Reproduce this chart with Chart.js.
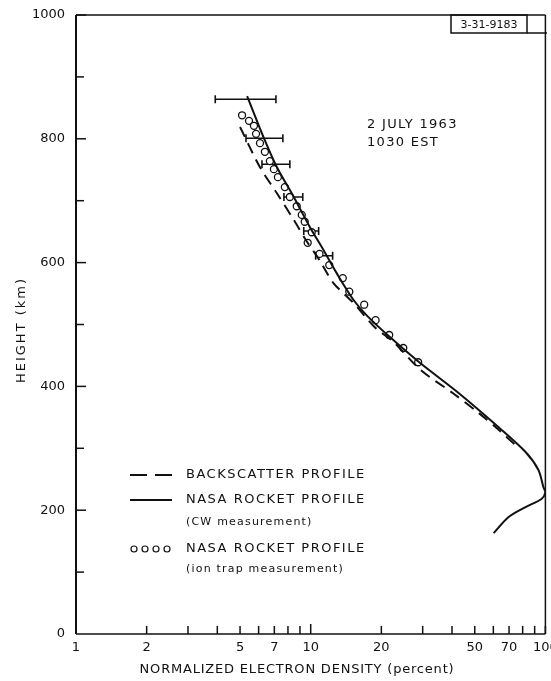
<!DOCTYPE html>
<html>
<head>
<meta charset="utf-8">
<script src="https://cdn.jsdelivr.net/npm/chart.js@4.4.0/dist/chart.umd.min.js"></script>
<style>
  html, body { margin: 0; padding: 0; background: #fff; }
  #wrap { width: 551px; height: 681px; }
</style>
</head>
<body>
<div id="wrap"><canvas id="chart"></canvas></div>
<script>
// backscatter profile (dashed line)
var backX = [5.0, 6.08, 7.18, 8.47, 9.52, 10.9, 12.5, 15.2, 18.7, 22.5, 29.5, 40.4, 52.0, 63.2, 74.6];
var backY = [819, 754, 712, 669, 637, 604, 567, 535, 496, 472, 426, 389, 357, 330, 305];

// NASA rocket profile, CW measurement (solid line)
var cwX = [5.36, 6.32, 7.18, 8.47, 9.90, 11.35, 12.9, 15.2, 17.4, 22.0, 29.0, 42.8, 63.2, 82.3, 93.4, 98.1, 100, 96.2, 82.3, 69.7, 60.2];
var cwY = [869, 801, 754, 706, 658, 620, 583, 540, 514, 478, 439, 389, 334, 294, 265, 237, 229, 218, 205, 189, 163];

// NASA rocket profile, ion trap measurement (circles)
var ionX = [5.10, 5.46, 5.73, 5.85, 6.08, 6.38, 6.70, 6.97, 7.25, 7.76, 8.15, 8.72, 9.16, 9.43, 10.1, 9.71, 10.9, 12.0, 13.7, 14.6, 16.9, 18.9, 21.6, 24.8, 28.7];
var ionY = [838, 829, 821, 808, 793, 779, 764, 751, 738, 722, 706, 691, 677, 666, 649, 632, 614, 596, 575, 553, 532, 507, 483, 462, 439];

// horizontal error bars on the CW profile
var errY  = [864, 801, 759, 706, 651, 611];
var errLo = [3.92, 5.30, 6.20, 7.69, 9.34, 10.5];
var errHi = [7.11, 7.61, 8.15, 9.25, 10.81, 12.4];

// axes
var xTicks = [1, 2, 3, 4, 5, 6, 7, 8, 9, 10, 20, 30, 40, 50, 60, 70, 80, 90, 100];
var xLabels = [1, 2, 5, 7, 10, 20, 50, 70, 100];
var yTicks = [0, 100, 200, 300, 400, 500, 600, 700, 800, 900, 1000];
var yLabels = [0, 200, 400, 600, 800, 1000];

var FONT = 'DejaVu Sans';

function pts(xs, ys) {
  var out = [];
  for (var i = 0; i < xs.length; i++) out.push({x: xs[i], y: ys[i]});
  return out;
}

var datasets = [
  {
    data: pts(backX, backY), showLine: true, borderColor: '#111', borderWidth: 2,
    borderDash: [11, 7], pointRadius: 0, tension: 0.3
  },
  {
    data: pts(cwX, cwY), showLine: true, borderColor: '#111', borderWidth: 2,
    pointRadius: 0, tension: 0.3
  },
  {
    data: pts(ionX, ionY), showLine: false, borderColor: '#111', backgroundColor: '#fff',
    pointStyle: 'circle', pointRadius: 3.5, pointBorderWidth: 1.3
  }
];

for (var i = 0; i < errY.length; i++) {
  datasets.push({
    data: [{x: errLo[i], y: errY[i]}, {x: errHi[i], y: errY[i]}],
    showLine: true, borderColor: '#111', borderWidth: 1.6,
    pointStyle: 'line', rotation: 90, pointRadius: 4, pointBorderWidth: 1.6,
    pointBorderColor: '#111', tension: 0
  });
}

function line(ctx, x1, y1, x2, y2) {
  ctx.beginPath();
  ctx.moveTo(x1, y1);
  ctx.lineTo(x2, y2);
  ctx.stroke();
}

function text(ctx, str, x, y, size, spacing, align) {
  ctx.font = size + 'px "' + FONT + '"';
  ctx.letterSpacing = spacing + 'px';
  ctx.textAlign = align || 'left';
  ctx.textBaseline = 'middle';
  ctx.fillText(str, x, y);
}

// frame, inward ticks, titles, legend and notes
var paperPlugin = {
  id: 'paper',
  afterDraw: function(chart) {
    var ctx = chart.ctx, a = chart.chartArea;
    var xs = chart.scales.x, ys = chart.scales.y;
    ctx.save();
    ctx.strokeStyle = '#111';
    ctx.fillStyle = '#111';

    // frame
    ctx.lineWidth = 1.5;
    line(ctx, a.left, a.top, a.right, a.top);
    line(ctx, a.right, a.top, a.right, a.bottom);
    line(ctx, a.left, a.bottom, a.right, a.bottom);
    ctx.lineWidth = 2;
    line(ctx, a.left, a.top, a.left, a.bottom);

    // inward ticks
    ctx.lineWidth = 1.5;
    xs.ticks.forEach(function(t) {
      if (t.value <= 1) return;
      var px = xs.getPixelForValue(t.value);
      line(ctx, px, a.bottom, px, a.bottom - (t.value == 10 ? 10 : 8));
    });
    ys.ticks.forEach(function(t) {
      if (t.value <= 0) return;
      var py = ys.getPixelForValue(t.value);
      line(ctx, a.left, py, a.left + (t.value % 200 == 0 ? 10 : 8), py);
    });

    // axis titles
    text(ctx, 'NORMALIZED ELECTRON DENSITY (percent)', 297, 670, 13, 0.8, 'center');
    ctx.save();
    ctx.translate(22, 330);
    ctx.rotate(-Math.PI / 2);
    text(ctx, 'HEIGHT (km)', 0, 0, 13, 2, 'center');
    ctx.restore();

    // date note
    text(ctx, '2 JULY 1963', 367, 125, 13, 1.3);
    text(ctx, '1030 EST', 367, 143, 13, 1.3);

    // figure number box
    ctx.lineWidth = 1.5;
    ctx.strokeRect(451, 15, 76, 18);
    line(ctx, 527, 33, 547, 33);
    text(ctx, '3-31-9183', 489, 25, 11, 0, 'center');

    // legend
    ctx.lineWidth = 2;
    line(ctx, 130, 475, 147, 475);
    line(ctx, 155, 475, 172, 475);
    text(ctx, 'BACKSCATTER PROFILE', 186, 475, 13, 1.5);
    line(ctx, 130, 500, 172, 500);
    text(ctx, 'NASA ROCKET PROFILE', 186, 500, 13, 1.5);
    text(ctx, '(CW measurement)', 186, 522, 11, 1.2);
    ctx.lineWidth = 1.2;
    [134, 145, 156, 167].forEach(function(cx) {
      ctx.beginPath();
      ctx.arc(cx, 549, 3, 0, Math.PI * 2);
      ctx.stroke();
    });
    text(ctx, 'NASA ROCKET PROFILE', 186, 549, 13, 1.5);
    text(ctx, '(ion trap measurement)', 186, 569, 11, 1.2);

    ctx.restore();
  }
};

new Chart(document.getElementById('chart'), {
  type: 'scatter',
  data: { datasets: datasets },
  options: {
    responsive: true,
    maintainAspectRatio: false,
    animation: false,
    layout: { padding: { top: 15, right: 1, left: 0, bottom: 0 } },
    plugins: { legend: { display: false }, tooltip: { enabled: false } },
    scales: {
      x: {
        type: 'logarithmic', min: 1, max: 100,
        grid: { display: false, drawTicks: false },
        border: { display: false },
        afterBuildTicks: function(s) { s.ticks = xTicks.map(function(v) { return {value: v}; }); },
        afterFit: function(s) { s.height = 47; s.paddingLeft = 0; s.paddingRight = 0; },
        ticks: {
          autoSkip: false, maxRotation: 0, padding: 6, color: '#111',
          font: { family: FONT, size: 13 },
          callback: function(v) { return xLabels.indexOf(v) >= 0 ? String(v) : ''; }
        }
      },
      y: {
        type: 'linear', min: 0, max: 1000,
        grid: { display: false, drawTicks: false },
        border: { display: false },
        afterBuildTicks: function(s) { s.ticks = yTicks.map(function(v) { return {value: v}; }); },
        afterFit: function(s) { s.width = 76; s.paddingTop = 0; s.paddingBottom = 0; },
        ticks: {
          autoSkip: false, padding: 11, color: '#111',
          font: { family: FONT, size: 13 },
          callback: function(v) { return yLabels.indexOf(v) >= 0 ? String(v) : ''; }
        }
      }
    }
  },
  plugins: [paperPlugin]
});
</script>
</body>
</html>
